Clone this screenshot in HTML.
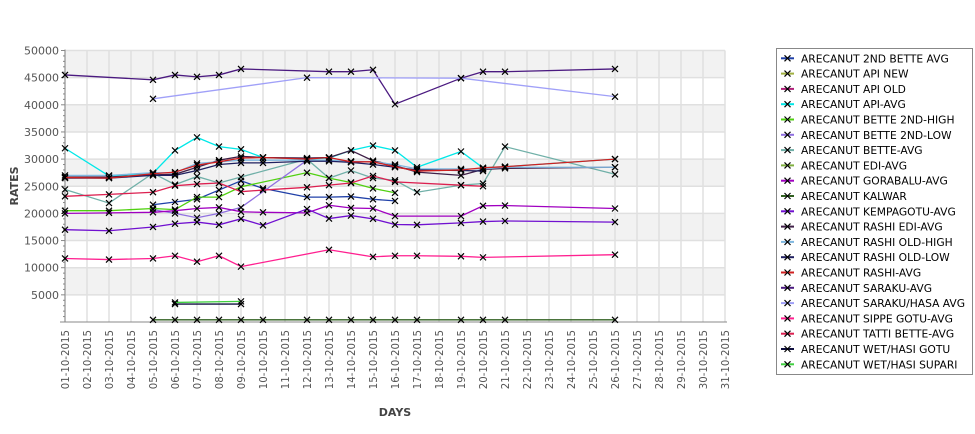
<!DOCTYPE html>
<html><head><meta charset="utf-8"><style>
body{margin:0;background:#fff;font-family:"Liberation Sans","DejaVu Sans",sans-serif;}
svg text{font-family:"DejaVu Sans","Liberation Sans",sans-serif;}
</style></head><body>
<svg id="c" width="975" height="429" xmlns="http://www.w3.org/2000/svg"></svg>
<script>
const dayLabels=[];for(let d=1;d<=31;d++)dayLabels.push((d<10?'0':'')+d+'-10-2015');
const yTicks=[5000,10000,15000,20000,25000,30000,35000,40000,45000,50000];
const seriesNames=["ARECANUT 2ND BETTE AVG","ARECANUT API NEW","ARECANUT API OLD","ARECANUT API-AVG","ARECANUT BETTE 2ND-HIGH","ARECANUT BETTE 2ND-LOW","ARECANUT BETTE-AVG","ARECANUT EDI-AVG","ARECANUT GORABALU-AVG","ARECANUT KALWAR","ARECANUT KEMPAGOTU-AVG","ARECANUT RASHI EDI-AVG","ARECANUT RASHI OLD-HIGH","ARECANUT RASHI OLD-LOW","ARECANUT RASHI-AVG","ARECANUT SARAKU-AVG","ARECANUT SARAKU/HASA AVG","ARECANUT SIPPE GOTU-AVG","ARECANUT TATTI BETTE-AVG","ARECANUT WET/HASI GOTU","ARECANUT WET/HASI SUPARI"];
const seriesColors=["#2040a8","#a0b040","#b0207a","#00e8e8","#50d010","#9070e0","#70b0a8","#80b040","#a000c0","#306020","#7010d0","#402048","#80b8e0","#202060","#d02020","#4b1a80","#a0a0f8","#ff2090","#dc2050","#101040","#40d040"];
const d_2ndBette=[5,6,7,8,9,10,12,13,14,15,16];
const v_2ndBette=[21600,22100,22600,24300,26000,24600,23000,23000,23100,22600,22300];
const d_apiAvg=[1,3,5,6,7,8,9,10,12,13,14,15,16,17,19,20,21,26];
const v_apiAvg=[32000,26900,27400,31600,34000,32300,31800,30300,30000,30200,31600,32500,31600,28500,31400,28400,28600,30000];
const d_bette2High=[1,3,5,6,7,8,9,12,13,14,15,16];
const v_bette2High=[20500,20500,20900,20700,23000,23000,24900,27500,26500,25700,24600,23800];
const d_bette2Low=[5,6,7,8,9,12];
const v_bette2Low=[20700,20000,19200,20000,21100,29800];
const d_betteAvg=[1,3,5,6,7,8,9,12,13,14,15,16,17,19,20,21,26];
const v_betteAvg=[24400,21900,27400,25300,26800,25600,26700,30000,26500,27900,26500,26100,23900,25200,25500,32300,27200];
const d_gorabalu=[1,3,5,6,7,8,9,10,12,13,14,15,16,19,20,21,26];
const v_gorabalu=[20000,20100,20200,20500,20900,21100,20300,20200,20100,21500,21000,20900,19500,19500,21400,21450,20900];
const d_kalwar=[5,6,7,8,9,10,12,13,14,15,16,17,19,20,21,26];
const v_kalwar=[400,400,400,400,400,400,400,400,400,400,400,400,400,400,400,400];
const d_kempa=[1,3,5,6,7,8,9,10,12,13,14,15,16,17,19,20,21,26];
const v_kempa=[17000,16800,17500,18100,18400,17900,19000,17800,20800,19050,19600,19000,17950,17900,18250,18500,18600,18400];
const d_rashiEdi=[1,3,5,6,7,8,9,10,12,13,14,15,16,17,19,20,21,26];
const v_rashiEdi=[26700,26700,27100,27200,28500,29800,30500,30300,30200,30300,31600,29700,28800,27600,27000,28100,28300,28500];
const d_rashiOldHigh=[1,3,5,6,7,8,9,10,12,13,14,15,16,17,19,20,21,26];
const v_rashiOldHigh=[27000,27000,27500,27500,29200,29500,29800,29800,29800,29800,29600,29500,29000,28200,28200,28200,28500,28500];
const d_rashiOldLow=[1,3,5,6,7,8,9,10,12,13,14,15,16,17,19,20];
const v_rashiOldLow=[26500,26500,27000,27000,27900,29000,29300,29300,29600,29600,29400,29000,28500,28000,27900,27800];
const d_rashiAvg=[1,3,5,6,7,8,9,10,12,13,14,15,16,17,19,20,21,26];
const v_rashiAvg=[26600,26500,27300,27600,28900,29500,30200,30300,30000,30300,29500,29500,28600,27800,28000,28400,28600,30000];
const d_saraku=[1,5,6,7,8,9,13,14,15,16,19,20,21,26];
const v_saraku=[45500,44600,45500,45150,45500,46600,46100,46100,46450,40100,44900,46100,46100,46600];
const d_sarakuHasa=[5,12,19,26];
const v_sarakuHasa=[41100,45000,44900,41500];
const d_sippe=[1,3,5,6,7,8,9,13,15,16,17,19,20,26];
const v_sippe=[11700,11500,11700,12200,11100,12200,10200,13300,12000,12200,12200,12100,11900,12400];
const d_tatti=[1,3,5,6,7,8,9,10,12,13,14,15,16,19,20];
const v_tatti=[23150,23500,23900,25100,25400,25600,24000,24300,24800,25200,25600,26900,25800,25200,25000];
const d_wetGotu=[6,9];
const v_wetGotu=[3300,3300];
const d_wetSupari=[6,9];
const v_wetSupari=[3600,3800];
const plotted=[[0,d_2ndBette,v_2ndBette],[3,d_apiAvg,v_apiAvg],[4,d_bette2High,v_bette2High],[5,d_bette2Low,v_bette2Low],[6,d_betteAvg,v_betteAvg],[8,d_gorabalu,v_gorabalu],[9,d_kalwar,v_kalwar],[10,d_kempa,v_kempa],[11,d_rashiEdi,v_rashiEdi],[12,d_rashiOldHigh,v_rashiOldHigh],[13,d_rashiOldLow,v_rashiOldLow],[14,d_rashiAvg,v_rashiAvg],[15,d_saraku,v_saraku],[16,d_sarakuHasa,v_sarakuHasa],[17,d_sippe,v_sippe],[18,d_tatti,v_tatti],[19,d_wetGotu,v_wetGotu],[20,d_wetSupari,v_wetSupari]];

const NS='http://www.w3.org/2000/svg';
const svg=document.getElementById('c');
const X0=65,DX=22,Y0=322,YTOP=50.5;
function xs(d){return X0+(d-1)*DX;}
function ys(v){return Y0-v*(Y0-YTOP)/50000;}
function mk(tag,attrs,parent){const e=document.createElementNS(NS,tag);for(const k in attrs)e.setAttribute(k,attrs[k]);(parent||svg).appendChild(e);return e;}
const plot=mk('g',{});


for(let v=45000;v>=5000;v-=10000){const r=mk('rect',{x:X0,y:ys(v+5000),width:xs(31)-X0,height:ys(v)-ys(v+5000),fill:'#f2f2f2'},plot);

}
for(let d=1;d<=31;d++){const l=mk('line',{x1:xs(d),x2:xs(d),y1:YTOP,y2:Y0,stroke:'#e0e0e0','stroke-width':1.5},plot);

}
yTicks.forEach(v=>{const l=mk('line',{x1:X0,x2:xs(31),y1:ys(v),y2:ys(v),stroke:'#e0e0e0','stroke-width':1.5},plot);

});
const ax=mk('line',{x1:X0,x2:X0,y1:YTOP-1,y2:Y0,stroke:'#888'});


const bx=mk('line',{x1:60,x2:xs(31)+2,y1:Y0,y2:Y0,stroke:'#888'});


for(let v=1000;v<=50000;v+=1000){const t=mk('line',{x1:X0-(v%5000?2:4),x2:X0,y1:ys(v),y2:ys(v),stroke:'#888'});

}
yTicks.forEach(v=>{const t=mk('text',{x:X0-6,y:ys(v)+4,'text-anchor':'end','font-size':11,fill:'#555'});t.textContent=v;

});
dayLabels.forEach((s,i)=>{const x=xs(i+1)+4;const t=mk('text',{x:0,y:0,'text-anchor':'end','font-size':10.2,fill:'#555',transform:`translate(${x},330) rotate(-90)`});t.textContent=s;

});
const yt=mk('text',{x:0,y:0,'text-anchor':'middle','font-size':11,'font-weight':'bold',fill:'#444',transform:'translate(18,186) rotate(-90)'});yt.textContent='RATES';


const xt=mk('text',{x:395,y:416,'text-anchor':'middle','font-size':11,'font-weight':'bold',fill:'#444'});xt.textContent='DAYS';


function cross(g,x,y,col){const p=mk('path',{d:`M${x-3},${y-3}L${x+3},${y+3}M${x-3},${y+3}L${x+3},${y-3}`,stroke:col,'stroke-width':1.2},g);return p;}
plotted.forEach(([si,ds,vs])=>{
 const g=mk('g',{});
 
 
 const pts=ds.map((d,i)=>xs(d)+','+ys(vs[i])).join(' ');
 const pl=mk('polyline',{points:pts,fill:'none',stroke:seriesColors[si],'stroke-width':1.3},g);
 
 
 ds.forEach((d,i)=>{const m=cross(g,xs(d),ys(vs[i]),'#000');
 
 });
});
const lg=mk('g',{});


const lb=mk('rect',{x:776.5,y:48.5,width:196,height:326,fill:'#fff',stroke:'#888'},lg);


seriesNames.forEach((n,i)=>{const y=58.3+i*15.3;const e=mk('g',{},lg);
 
 
 mk('line',{x1:781,x2:794,y1:y,y2:y,stroke:seriesColors[i],'stroke-width':2},e);
 cross(e,787.5,y,'#000');
 const t=mk('text',{x:801,y:y+4,'font-size':10.7,fill:'#000'},e);t.textContent=n;});
</script>
</body></html>
